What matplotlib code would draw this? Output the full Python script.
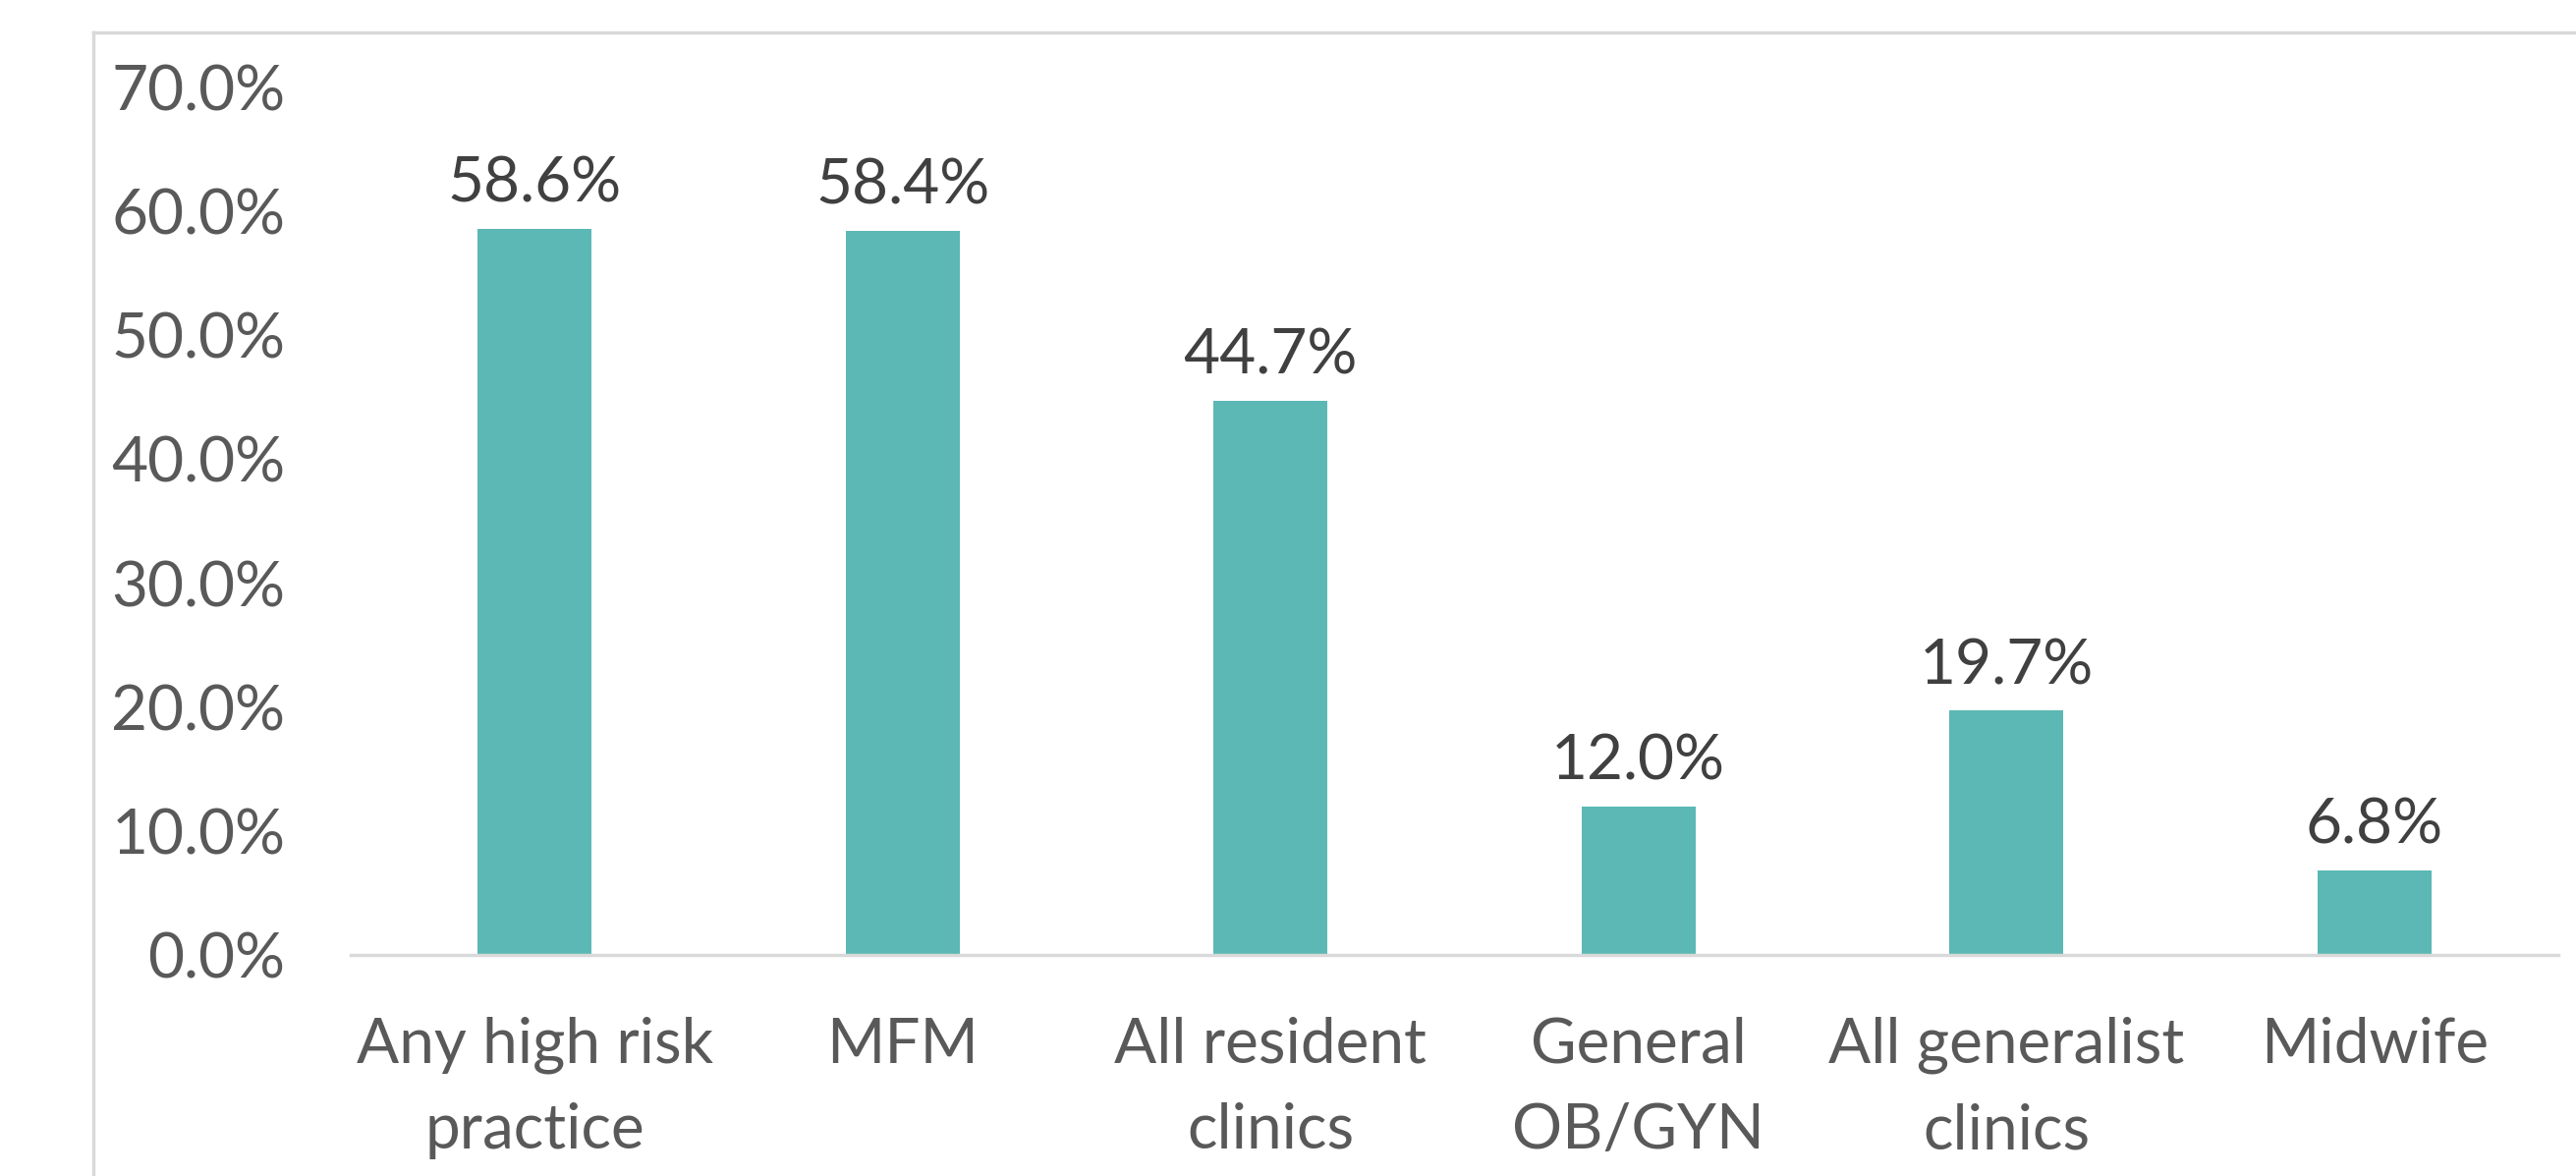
import matplotlib
matplotlib.use("Agg")
import matplotlib.pyplot as plt
from matplotlib.lines import Line2D
from matplotlib.ticker import FuncFormatter, MultipleLocator

categories = ["Any high risk\npractice", "MFM", "All resident\nclinics",
              "General\nOB/GYN", "All generalist\nclinics", "Midwife"]
values = [58.6, 58.4, 44.7, 12.0, 19.7, 6.8]

plt.rcParams['font.family'] = ['Lato', 'DejaVu Sans']

fig = plt.figure(figsize=(26.22, 11.97), dpi=100)
ax = fig.add_axes([357/2622, 1 - 972/1197, (2604 - 357)/2622, (972 - 89)/1197])

x = list(range(len(categories)))
bars = ax.bar(x, values, width=0.31, color="#5BB8B4", zorder=2)
for xi, v in zip(x, values):
    ax.text(xi, v + 1.3, f"{v:.1f}%", ha="center", va="bottom",
            fontsize=46, color="#404040")

ax.set_xlim(-0.5, len(categories) - 0.5)
ax.set_ylim(0, 70)
ax.yaxis.set_major_locator(MultipleLocator(10))
ax.yaxis.set_major_formatter(FuncFormatter(lambda v, p: f"{v:.1f}%"))
ax.set_xticks(x)
ax.set_xticklabels(categories, fontsize=46, color="#595959", linespacing=1.62)
ax.tick_params(axis="y", labelsize=46, labelcolor="#595959", length=0, pad=48)
ax.tick_params(axis="x", length=0, pad=45)

for s in ["top", "right", "left"]:
    ax.spines[s].set_visible(False)
ax.spines["bottom"].set_color("#D9D9D9")
ax.spines["bottom"].set_linewidth(2.5)

# chart area border (cropped: only left and top edges visible)
fig.add_artist(Line2D([95/2622, 95/2622], [0, 1 - 33/1197], transform=fig.transFigure,
                      color="#D9D9D9", linewidth=2.5))
fig.add_artist(Line2D([95/2622, 1], [1 - 33/1197, 1 - 33/1197], transform=fig.transFigure,
                      color="#D9D9D9", linewidth=2.5))

fig.savefig("out.png", dpi=100, facecolor="white")
